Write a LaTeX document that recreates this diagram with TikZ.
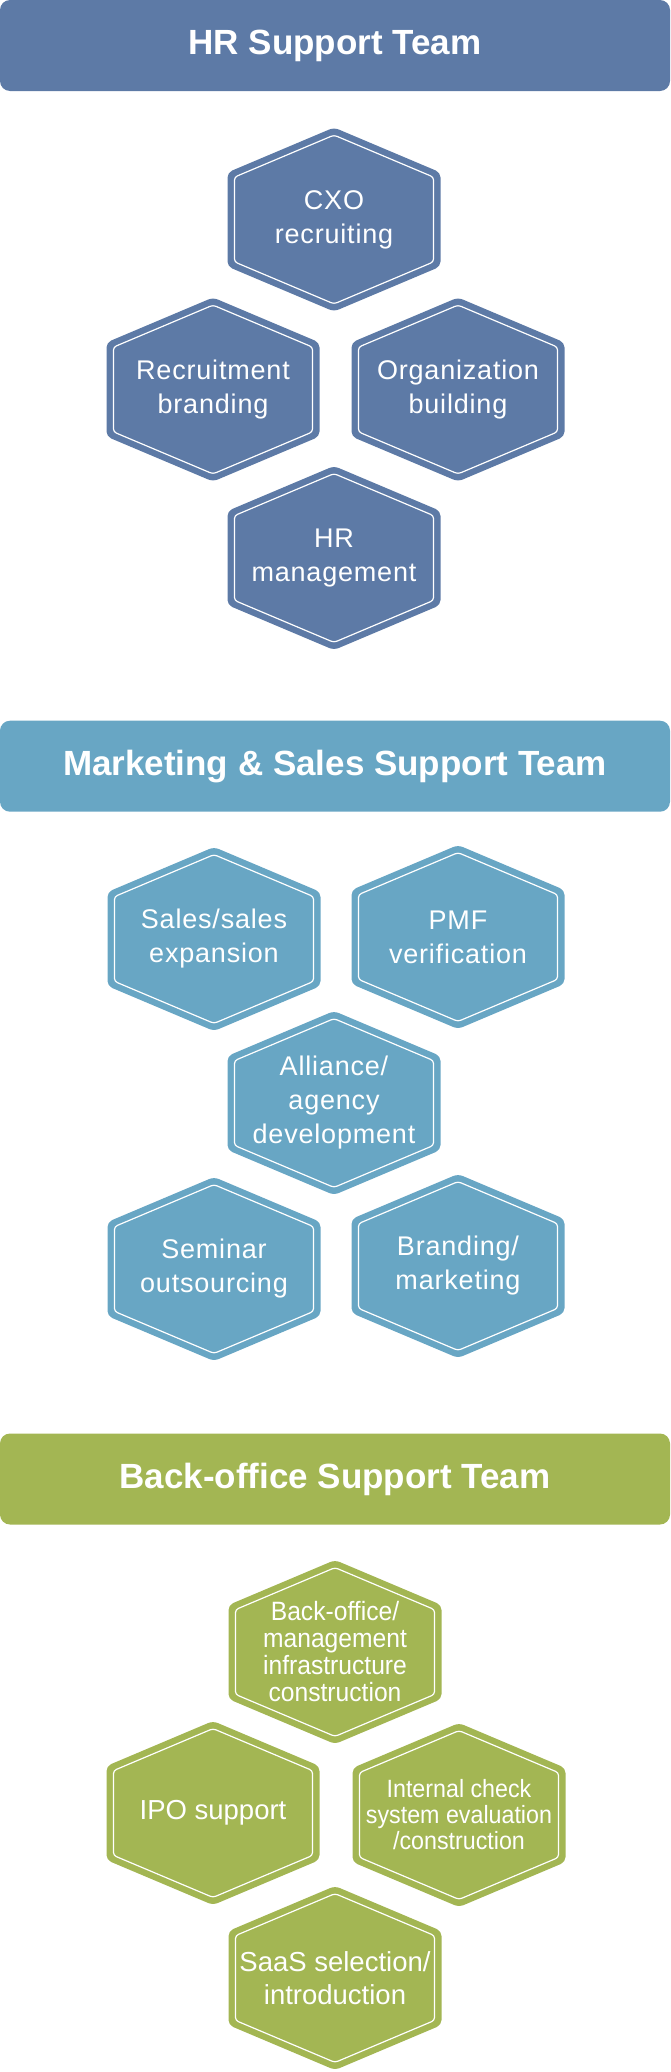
\documentclass[tikz,border=0pt]{standalone}
\usepackage{fontspec}
\setmainfont{Liberation Sans}
\newfontfamily\hexfont[LetterSpace=3]{Liberation Sans}
\newfontfamily\narrowfont[FakeStretch=0.93]{Liberation Sans}
\definecolor{hrblue}{HTML}{5D7AA6}
\definecolor{mkblue}{HTML}{68A6C4}
\definecolor{bogreen}{HTML}{A3B653}

\begin{document}
\begin{tikzpicture}[x=1pt,y=-1pt,
  header/.style={fill=#1, rounded corners=10pt, text=white, minimum width=670pt,
    minimum height=91pt, inner sep=0pt, font=\fontsize{35}{40}\selectfont\bfseries},
  hexfill/.style={fill=#1, rounded corners=5pt},
  hexline/.style={draw=white, line width=1.2pt, rounded corners=3pt},
  hextext/.style={text=white, align=center, inner sep=0pt,
    font=\hexfont\fontsize{27}{34}\selectfont},
  botext/.style={text=white, align=center, inner sep=0pt,
    font=\narrowfont\fontsize{26.5}{27}\selectfont},
  bocheck/.style={text=white, align=center, inner sep=0pt,
    font=\narrowfont\fontsize{25}{26}\selectfont},
  boplain/.style={text=white, align=center, inner sep=0pt,
    font=\fontsize{27.5}{33}\selectfont}]
\useasboundingbox (0,0) rectangle (670,2072);
% Team headers
\node[header=hrblue]  (hrteam) at (335,45.5)   {HR Support Team};
\node[header=mkblue]  (mkteam) at (335,766.2)  {Marketing \& Sales Support Team};
\node[header=bogreen] (boteam) at (335,1479)   {Back-office Support Team};
% Hexagons
\foreach \name/\x/\y/\col/\sty/\txt in {
    cxo/334/219.5/hrblue/hextext/{CXO\\recruiting},
    recbrand/213/389.5/hrblue/hextext/{Recruitment\\branding},
    orgbuild/458/389.5/hrblue/hextext/{Organization\\building},
    hrmgmt/334/558/hrblue/hextext/{HR\\management},
    sales/214/939/mkblue/hextext/{Sales/sales\\expansion},
    pmf/458/937/mkblue/hextext/{PMF\\verification},
    alliance/334/1103/mkblue/hextext/{Alliance/\\agency\\development},
    seminar/214/1269/mkblue/hextext/{Seminar\\outsourcing},
    branding/458/1266/mkblue/hextext/{Branding/\\marketing},
    backoffice/335/1652/bogreen/botext/{Back-office/\\management\\infrastructure\\construction},
    ipo/213/1813/bogreen/boplain/{IPO support},
    intcheck/459/1815/bogreen/bocheck/{Internal check\\system evaluation\\/construction},
    saas/335/1978/bogreen/boplain/{SaaS selection/\\introduction}} {
  \path[hexfill=\col] (\x,\y) ++(0,-92) -- ++(106.5,45) -- ++(0,94) -- ++(-106.5,45)
    -- ++(-106.5,-45) -- ++(0,-94) -- cycle;
  \draw[hexline] (\x,\y) ++(0,-84.4) -- ++(99.5,42) -- ++(0,84.8) -- ++(-99.5,42)
    -- ++(-99.5,-42) -- ++(0,-84.8) -- cycle;
  \node[\sty] (\name) at (\x,\y) {\txt};
}
\end{tikzpicture}
\end{document}
